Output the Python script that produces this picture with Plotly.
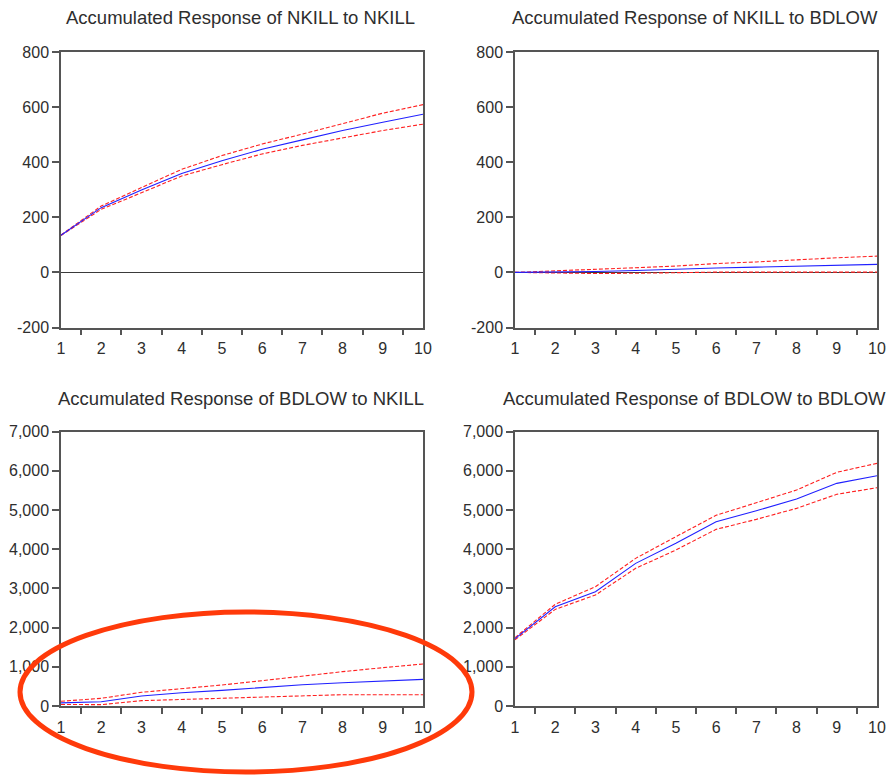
import plotly.graph_objects as go

# Forecast horizon (periods)
periods = list(range(1, 11))

# Accumulated response of NKILL to NKILL
nkill_to_nkill = [135, 235, 299, 359, 405, 447, 481, 515, 545, 574]
nkill_to_nkill_hi = [136, 241, 308, 374, 424, 466, 502, 541, 578, 609]
nkill_to_nkill_lo = [134, 229, 289, 350, 391, 430, 461, 489, 515, 538]

# Accumulated response of NKILL to BDLOW
nkill_to_bdlow = [0, 1, 3, 7, 12, 16, 19, 23, 26, 29]
nkill_to_bdlow_hi = [0, 5, 10, 17, 23, 32, 38, 46, 53, 59]
nkill_to_bdlow_lo = [0, -3, -4, -3, 0, 1, 1, 1, 1, 1]

# Accumulated response of BDLOW to NKILL
bdlow_to_nkill = [80, 110, 255, 340, 400, 476, 544, 595, 638, 680]
bdlow_to_nkill_hi = [120, 196, 349, 434, 536, 646, 765, 876, 978, 1072]
bdlow_to_nkill_lo = [40, 34, 136, 170, 187, 230, 255, 289, 289, 289]

# Accumulated response of BDLOW to BDLOW
bdlow_to_bdlow = [1718, 2534, 2917, 3640, 4151, 4703, 4984, 5282, 5682, 5877]
bdlow_to_bdlow_hi = [1745, 2595, 3045, 3768, 4321, 4866, 5188, 5512, 5963, 6193]
bdlow_to_bdlow_lo = [1690, 2466, 2832, 3513, 3980, 4508, 4763, 5044, 5402, 5571]

panel_titles = [
    "Accumulated Response of NKILL to NKILL",
    "Accumulated Response of NKILL to BDLOW",
    "Accumulated Response of BDLOW to NKILL",
    "Accumulated Response of BDLOW to BDLOW",
]

top_ticks = [-200, 0, 200, 400, 600, 800]
bottom_ticks = [0, 1000, 2000, 3000, 4000, 5000, 6000, 7000]

W, H = 892, 775
FONT = "Liberation Sans, Arial, sans-serif"
TEXT = "#2e2e2e"
FRAME = "#555555"

# plot-area boxes in pixels: (left, right, top, bottom)
boxes = [
    (61, 423, 52, 327.5),
    (515, 877, 52, 327.5),
    (61, 423, 431.7, 706),
    (515, 877, 431.7, 706),
]

panels = [
    (nkill_to_nkill, nkill_to_nkill_hi, nkill_to_nkill_lo),
    (nkill_to_bdlow, nkill_to_bdlow_hi, nkill_to_bdlow_lo),
    (bdlow_to_nkill, bdlow_to_nkill_hi, bdlow_to_nkill_lo),
    (bdlow_to_bdlow, bdlow_to_bdlow_hi, bdlow_to_bdlow_lo),
]


def tick_label(v):
    # plain ASCII hyphen for negatives, comma thousands separator
    return f"{v:,}"


fig = go.Figure()
layout = dict(
    template="none",
    width=W,
    height=H,
    autosize=False,
    margin=dict(l=0, r=0, t=0, b=0, pad=0),
    paper_bgcolor="white",
    plot_bgcolor="white",
    showlegend=False,
    font=dict(family=FONT, color=TEXT),
)

for k, (resp, hi, lo) in enumerate(panels):
    n = k + 1
    xa = "x" if n == 1 else f"x{n}"
    ya = "y" if n == 1 else f"y{n}"
    for series, color, dash in ((hi, "#ff2020", "4px,2px"), (lo, "#ff2020", "4px,2px"), (resp, "#2020ff", "solid")):
        fig.add_trace(go.Scatter(
            x=periods, y=series, mode="lines", xaxis=xa, yaxis=ya,
            line=dict(color=color, width=1.1, dash=dash),
            hoverinfo="skip",
        ))

    left, right, top, bottom = boxes[k]
    top_row = k < 2
    yticks = top_ticks if top_row else bottom_ticks
    xkey = "xaxis" if n == 1 else f"xaxis{n}"
    ykey = "yaxis" if n == 1 else f"yaxis{n}"
    layout[xkey] = dict(
        domain=[left / W, right / W],
        anchor=ya,
        automargin=False,
        range=[1, 10],
        tickvals=periods,
        ticktext=[str(p) for p in periods],
        ticks="outside",
        ticklen=6,
        tickcolor="rgba(0,0,0,0)",
        minor=dict(tickvals=[p + 0.5 for p in periods[:-1]], ticks="outside",
                   ticklen=6, tickcolor=FRAME, tickwidth=1.5, showgrid=False),
        showline=True, linecolor=FRAME, linewidth=1.5, mirror=True,
        showgrid=False, zeroline=False,
        tickfont=dict(family=FONT, size=16, color=TEXT),
        fixedrange=True,
    )
    layout[ykey] = dict(
        domain=[1 - bottom / H, 1 - top / H],
        anchor=xa,
        automargin=False,
        range=[-200, 800] if top_row else [0, 7000],
        tickvals=yticks,
        ticktext=[tick_label(v) for v in yticks],
        ticks="outside",
        ticklen=7,
        tickcolor=FRAME,
        tickwidth=1.5,
        showline=True, linecolor=FRAME, linewidth=1.5, mirror=True,
        showgrid=False,
        zeroline=top_row, zerolinecolor="#3a3a3a", zerolinewidth=1,
        tickfont=dict(family=FONT, size=16, color=TEXT),
        fixedrange=True,
    )

title_pos = [(240, 19), (694.5, 19), (241, 399.5), (694, 399.5)]
annotations = []
for (cx, cy), text in zip(title_pos, panel_titles):
    annotations.append(dict(
        text=text, x=cx / W, y=1 - (cy - 1) / H, xref="paper", yref="paper",
        xanchor="center", yanchor="middle", showarrow=False,
        font=dict(family=FONT, size=18.5, color=TEXT),
    ))
layout["annotations"] = annotations

# highlight ring around the lower-left response
layout["shapes"] = [dict(
    type="circle", xref="paper", yref="paper",
    x0=20 / W, x1=472 / W, y0=1 - 772 / H, y1=1 - 612 / H,
    line=dict(color="#ff3a0a", width=5),
    layer="above",
)]

fig.update_layout(**layout)
fig.write_html("out.html")
